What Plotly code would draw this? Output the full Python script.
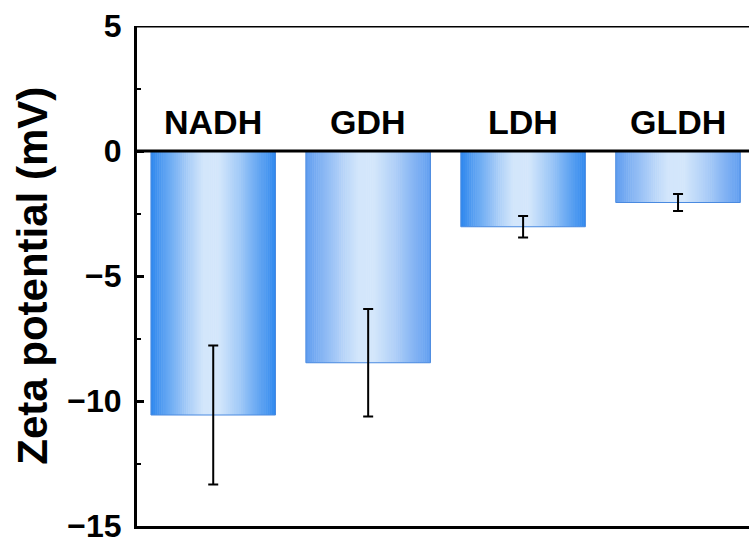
import numpy as np
import plotly.graph_objects as go

# Zeta potential of each sample (mV), mean and standard deviation
samples = ["NADH", "GDH", "LDH", "GLDH"]
zeta_mean = [-10.56, -8.47, -3.03, -2.06]
zeta_sd = [2.78, 2.15, 0.43, 0.34]

# edge colour of each bar's horizontal gradient (centre is a pale blue)
edge_rgb = [(46, 135, 238), (96, 157, 240), (46, 135, 238), (96, 157, 240)]
center_rgb = (211, 230, 251)

y_ticks = [5, 0, -5, -10, -15]

FONT = "Liberation Sans, Arial, Helvetica, sans-serif"
BAR_W = 0.804
N_STRIPS = 60

pos = list(range(len(samples)))

# gradient profile across a bar: 0 = edge colour, 1 = centre colour
prof_t = [0.0, 0.08, 0.3, 0.42, 0.55, 0.7, 0.92, 1.0]
prof_f = [0.0, 0.2, 0.75, 1.0, 1.0, 0.72, 0.2, 0.0]


def strip_colour(edge, t):
    f = float(np.interp(t, prof_t, prof_f))
    c = [round(e + (m - e) * f) for e, m in zip(edge, center_rgb)]
    return f"rgb({c[0]},{c[1]},{c[2]})"


fig = go.Figure()

# each bar is filled with narrow vertical strips to give the shaded look
step = BAR_W / N_STRIPS
for k in range(N_STRIPS):
    t = (k + 0.5) / N_STRIPS
    off = -BAR_W / 2 + k * step
    wid = min(step * 1.25, BAR_W / 2 - off)
    fig.add_trace(go.Bar(
        x=pos, y=zeta_mean,
        width=wid, offset=off,
        marker=dict(color=[strip_colour(e, t) for e in edge_rgb], line=dict(width=0)),
        hoverinfo="skip", showlegend=False,
    ))

# bar outline with the error bars
fig.add_trace(go.Bar(
    x=pos, y=zeta_mean,
    width=BAR_W, offset=-BAR_W / 2,
    marker=dict(color="rgba(0,0,0,0)", line=dict(color="rgb(74,138,224)", width=1)),
    error_y=dict(type="data", array=zeta_sd, visible=True,
                 color="black", thickness=2, width=5),
    customdata=samples,
    hovertemplate="%{customdata}: %{y} mV<extra></extra>",
    showlegend=False,
))

# sample names above the zero line
for p, name in zip(pos, samples):
    fig.add_annotation(
        x=p, y=1.16, xref="x", yref="y", text=name, showarrow=False,
        yanchor="middle", xanchor="center",
        font=dict(family=FONT, size=34, color="black", weight="bold"),
    )

# axis title
fig.add_annotation(
    x=-0.172, y=0.5, xref="paper", yref="paper",
    text="Zeta potential (mV)", textangle=-90, showarrow=False,
    xanchor="center", yanchor="middle",
    font=dict(family=FONT, size=42, color="black", weight="bold"),
)

# top frame line and zero line
for yv in (5, 0):
    fig.add_shape(type="line", xref="paper", x0=0, x1=1, yref="y", y0=yv, y1=yv,
                  line=dict(color="black", width=3), layer="above")

fig.update_layout(
    width=749, height=545,
    margin=dict(l=137, r=0, t=26, b=19),
    paper_bgcolor="white", plot_bgcolor="white",
    barmode="overlay",
    font=dict(family=FONT, color="black"),
    xaxis=dict(
        range=[-0.492, 3.458], showgrid=False, zeroline=False,
        showline=True, linecolor="black", linewidth=3,
        showticklabels=False, ticks="",
    ),
    yaxis=dict(
        range=[-15, 5], tickvals=y_ticks, showgrid=False, zeroline=False,
        showline=True, linecolor="black", linewidth=3,
        ticks="inside", ticklen=7, tickwidth=2.5, tickcolor="black",
        minor=dict(dtick=2.5, ticks="inside", ticklen=4, tickwidth=2, tickcolor="black"),
        tickfont=dict(family=FONT, size=32, color="black", weight="bold"),
        ticklabelstandoff=6,
    ),
)

fig.write_html("out.html")
